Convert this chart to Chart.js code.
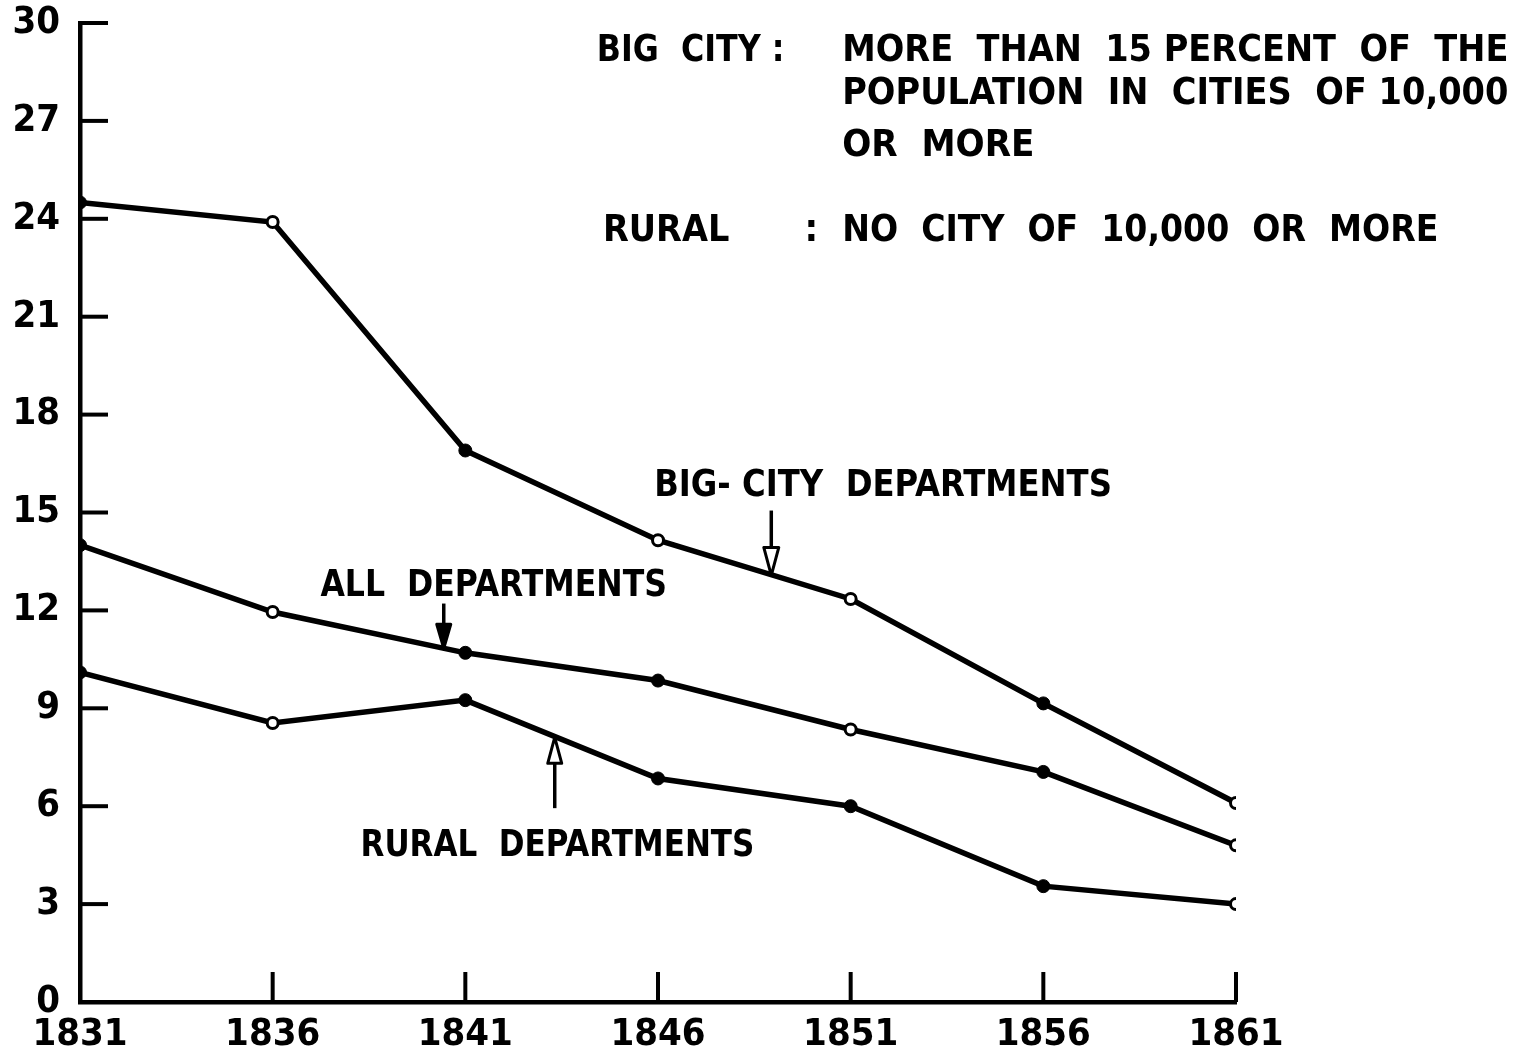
<!DOCTYPE html>
<html>
<head>
<meta charset="utf-8">
<script src="https://cdn.jsdelivr.net/npm/chart.js@4/dist/chart.umd.min.js"></script>
<style>
  html, body { margin: 0; padding: 0; background: #fff; }
  #wrap { width: 1518px; height: 1048px; position: relative; }
</style>
</head>
<body>
<div id="wrap"><canvas id="c" width="1518" height="1048"></canvas></div>
<script>
// ---- data ----
const years = [1831, 1836, 1841, 1846, 1851, 1856, 1861];
const bigCity = [24.5, 23.9, 16.9, 14.15, 12.35, 9.15, 6.1];
const allDepartments = [14.0, 11.95, 10.7, 9.85, 8.35, 7.05, 4.8];
const ruralDepartments = [10.1, 8.55, 9.25, 6.85, 6.0, 3.55, 3.0];
const yTickValues = [0, 3, 6, 9, 12, 15, 18, 21, 24, 27, 30];

// marker style (open = white-filled circle)
const bigOpen = [false, true, false, true, true, false, true];
const allOpen = [false, true, false, false, true, false, true];
const ruralOpen = [false, true, false, false, false, false, true];

const FONT = "'Liberation Sans Narrow','DejaVu Sans Condensed','DejaVu Sans',sans-serif";

function mkDataset(label, vals, open) {
  return {
    label,
    data: years.map((y, i) => ({ x: y, y: vals[i] })),
    borderColor: '#000',
    borderWidth: 5.5,
    tension: 0,
    pointRadius: open.map(o => o ? 5.5 : 6.5),
    pointBorderWidth: open.map(o => o ? 3 : 1),
    pointBackgroundColor: open.map(o => o ? '#fff' : '#000'),
    pointBorderColor: '#000'
  };
}

function fitText(ctx, text, x, y, w, size) {
  ctx.save();
  ctx.font = 'bold ' + size + 'px ' + FONT;
  ctx.textBaseline = 'alphabetic';
  ctx.textAlign = 'left';
  const m = ctx.measureText(text).width;
  ctx.translate(x, y);
  if (w) ctx.scale(w / m, 1);
  ctx.fillStyle = '#000';
  ctx.fillText(text, 0, 0);
  ctx.restore();
}

function arrow(ctx, x, y0, y1, headLen, headW, filled) {
  // from y0 (tail) to y1 (tip)
  const dir = y1 > y0 ? 1 : -1;
  const baseY = y1 - dir * headLen;
  ctx.save();
  ctx.strokeStyle = '#000';
  ctx.lineWidth = 3.5;
  ctx.beginPath();
  ctx.moveTo(x, y0);
  ctx.lineTo(x, baseY);
  ctx.stroke();
  ctx.beginPath();
  ctx.moveTo(x - headW / 2, baseY);
  ctx.lineTo(x + headW / 2, baseY);
  ctx.lineTo(x, y1);
  ctx.closePath();
  ctx.lineWidth = 3;
  ctx.lineJoin = 'round';
  if (filled) { ctx.fillStyle = '#000'; ctx.fill(); }
  ctx.stroke();
  ctx.restore();
}

const decor = {
  id: 'decor',
  afterDraw(chart) {
    const ctx = chart.ctx;
    const xs = chart.scales.x, ys = chart.scales.y;
    const X = v => xs.getPixelForValue(v), Y = v => ys.getPixelForValue(v);
    // inside tick marks
    ctx.save();
    ctx.strokeStyle = '#000';
    ctx.lineWidth = 4;
    yTickValues.forEach(v => {
      if (v === 0) return;
      const py = Y(v);
      ctx.beginPath();
      ctx.moveTo(xs.left, py);
      ctx.lineTo(xs.left + 28, py);
      ctx.stroke();
    });
    years.forEach(v => {
      if (v === years[0]) return;
      const px = X(v);
      ctx.beginPath();
      ctx.moveTo(px, ys.bottom);
      ctx.lineTo(px, ys.bottom - 30);
      ctx.stroke();
    });
    ctx.restore();

    // definitions block
    fitText(ctx, 'BIG  CITY :', X(1844.41), Y(28.84), X(1849.28) - X(1844.41), 38);
    fitText(ctx, 'MORE  THAN  15 PERCENT  OF  THE', X(1850.78), Y(28.84), X(1868.07) - X(1850.78), 38);
    fitText(ctx, 'POPULATION  IN  CITIES  OF 10,000', X(1850.78), Y(27.52), X(1868.07) - X(1850.78), 38);
    fitText(ctx, 'OR  MORE', X(1850.78), Y(25.93), X(1855.77) - X(1850.78), 38);
    fitText(ctx, 'RURAL', X(1844.57), Y(23.33), X(1847.85) - X(1844.57), 38);
    fitText(ctx, ':', X(1849.8), Y(23.33), 0, 38);
    fitText(ctx, 'NO  CITY  OF  10,000  OR  MORE', X(1850.78), Y(23.33), X(1866.25) - X(1850.78), 38);

    // series labels
    fitText(ctx, 'BIG- CITY  DEPARTMENTS', X(1845.9), Y(15.52), X(1857.78) - X(1845.9), 38);
    fitText(ctx, 'ALL  DEPARTMENTS', X(1837.24), Y(12.43), X(1846.23) - X(1837.24), 38);
    fitText(ctx, 'RURAL  DEPARTMENTS', X(1838.28), Y(4.47), X(1848.5) - X(1838.28), 38);

    // arrows
    arrow(ctx, X(1848.94), Y(15.06), Y(13.07), 28, 15, false);
    arrow(ctx, X(1840.44), Y(12.21), Y(10.84), 24, 14, true);
    arrow(ctx, X(1843.32), Y(5.94), Y(8.11), 26, 14, false);
  }
};

new Chart(document.getElementById('c'), {
  type: 'line',
  data: {
    datasets: [
      mkDataset('Big-city departments', bigCity, bigOpen),
      mkDataset('All departments', allDepartments, allOpen),
      mkDataset('Rural departments', ruralDepartments, ruralOpen)
    ]
  },
  options: {
    responsive: false,
    animation: false,
    layout: { padding: { top: 23, right: 282, left: 0, bottom: 0 } },
    plugins: { legend: { display: false }, tooltip: { enabled: false } },
    scales: {
      x: {
        type: 'linear',
        min: years[0],
        max: years[years.length - 1],
        afterBuildTicks: s => { s.ticks = years.map(v => ({ value: v })); },
        afterFit: s => { s.height = 46; s.paddingLeft = 0; s.paddingRight = 0; },
        border: { display: true, color: '#000', width: 4.5 },
        grid: { display: true, drawOnChartArea: false, drawTicks: false },
        ticks: {
          color: '#000',
          padding: 10,
          maxRotation: 0,
          autoSkip: false,
          font: { family: FONT, weight: 'bold', size: 38 },
          callback: v => String(v)
        }
      },
      y: {
        type: 'linear',
        min: 0,
        max: 30,
        afterBuildTicks: s => { s.ticks = yTickValues.map(v => ({ value: v })); },
        afterFit: s => { s.width = 80; s.paddingTop = 0; s.paddingBottom = 0; },
        border: { display: true, color: '#000', width: 4.5 },
        grid: { display: true, drawOnChartArea: false, drawTicks: false },
        ticks: {
          color: '#000',
          padding: 20,
          font: { family: FONT, weight: 'bold', size: 38 },
          callback: v => String(v)
        }
      }
    }
  },
  plugins: [decor]
});
</script>
</body>
</html>
